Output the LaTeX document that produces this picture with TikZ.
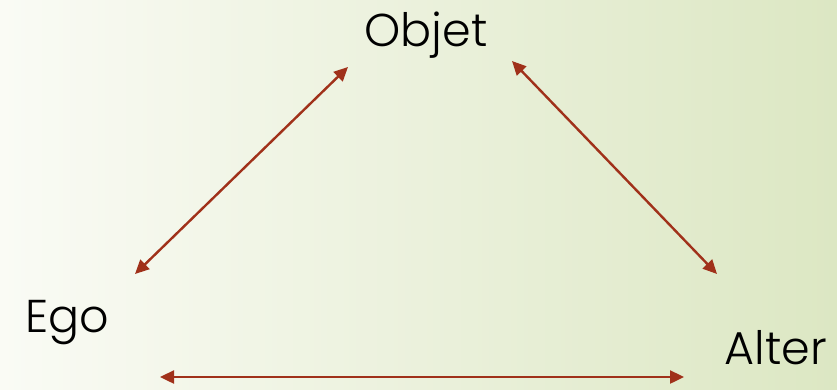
\documentclass[tikz,border=0pt]{standalone}
\usepackage{fontspec}
\setmainfont{Poppins}[UprightFont=* Light]
\usetikzlibrary{arrows.meta}
\definecolor{arrowred}{HTML}{A0311A}
\definecolor{bgleft}{HTML}{FAFBF5}
\definecolor{bgright}{HTML}{DCE7C3}
\tikzset{
  label/.style={font=\fontsize{46}{50}\selectfont, text=black, inner sep=0pt, anchor=base},
  rel/.style={draw=arrowred, line width=2.4pt, {Triangle[length=14pt,width=13pt]}-{Triangle[length=14pt,width=13pt]}, arrowred}
}
\begin{document}
\begin{tikzpicture}[x=1pt,y=-1pt]
  \shade[left color=bgleft, right color=bgright] (0,0) rectangle (837,389);
  \useasboundingbox (0,0) rectangle (837,389);
  \node[label] (objet) at (426,46) {Objet};
  \node[label] (ego) at (67,332) {Ego};
  \node[label] (alter) at (776,364) {Alter};
  \coordinate (o1) at (348,67);
  \coordinate (e1) at (135,274);
  \coordinate (o2) at (512,61);
  \coordinate (a1) at (717,274);
  \coordinate (e2) at (160,377);
  \coordinate (a2) at (684,377);
  \draw[rel] (e1) -- (o1);
  \draw[rel] (o2) -- (a1);
  \draw[rel] (e2) -- (a2);
\end{tikzpicture}
\end{document}
